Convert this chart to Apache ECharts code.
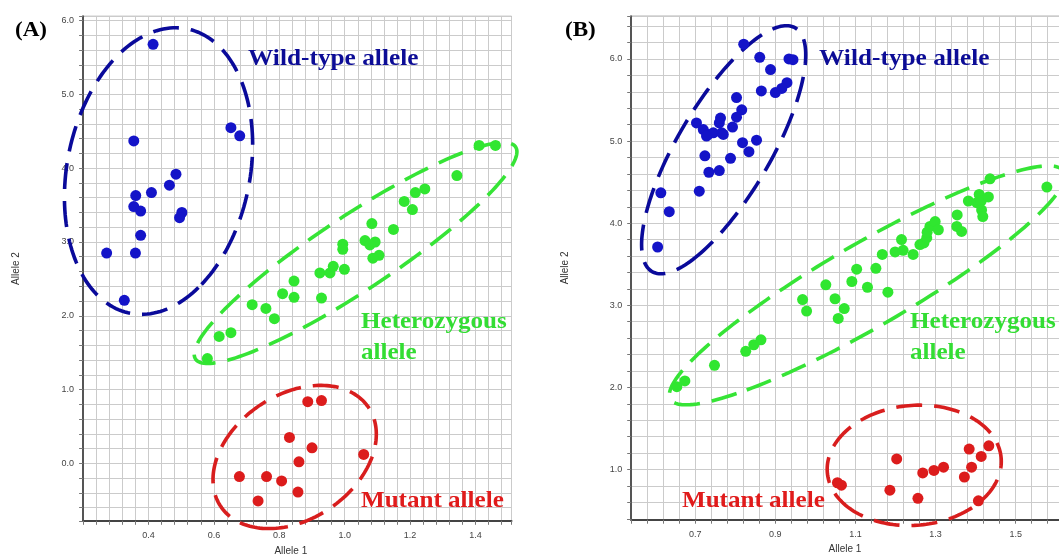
<!DOCTYPE html>
<html><head><meta charset="utf-8">
<script src="https://cdn.jsdelivr.net/npm/echarts@6/dist/echarts.min.js"></script>
<style>html,body{margin:0;padding:0;background:#fff}#c{width:1059px;height:554px}</style>
</head><body><div id="c"></div>
<script>
// ---------- Panel A data (Allele 1, Allele 2) ----------
const wildA = [[0.414,5.68],[0.355,4.37],[0.652,4.55],[0.679,4.44],[0.484,3.92],[0.464,3.77],[0.409,3.67],[0.361,3.63],[0.355,3.48],[0.376,3.42],[0.502,3.40],[0.495,3.33],[0.376,3.09],[0.272,2.85],[0.360,2.85],[0.326,2.21]];
const hetA = [[0.580,1.42],[0.616,1.72],[0.652,1.77],[0.717,2.15],[0.759,2.10],[0.785,1.96],[0.810,2.30],[0.845,2.25],[0.845,2.47],[0.929,2.24],[0.924,2.58],[0.955,2.58],[0.965,2.67],[0.999,2.63],[0.994,2.97],[0.994,2.90],[1.062,3.02],[1.083,3.25],[1.093,3.00],[1.077,2.96],[1.105,2.82],[1.086,2.78],[1.149,3.17],[1.182,3.55],[1.207,3.44],[1.216,3.67],[1.245,3.72],[1.343,3.90],[1.411,4.31],[1.461,4.31]];
const mutA = [[0.887,0.835],[0.929,0.85],[0.831,0.35],[0.900,0.21],[0.860,0.02],[1.058,0.12],[0.678,-0.18],[0.761,-0.18],[0.807,-0.24],[0.857,-0.39],[0.735,-0.51]];

// ---------- Panel B data ----------
const wildB = [[0.821,6.18],[0.861,6.02],[0.888,5.87],[0.934,6.00],[0.944,5.99],[0.929,5.71],[0.916,5.64],[0.900,5.59],[0.865,5.61],[0.803,5.53],[0.816,5.38],[0.803,5.29],[0.793,5.17],[0.703,5.22],[0.763,5.28],[0.760,5.22],[0.720,5.14],[0.732,5.08],[0.745,5.10],[0.766,5.10],[0.770,5.08],[0.728,5.06],[0.853,5.01],[0.818,4.98],[0.834,4.87],[0.724,4.82],[0.788,4.79],[0.734,4.62],[0.760,4.64],[0.710,4.39],[0.614,4.37],[0.635,4.14],[0.606,3.71]];
const hetB = [[0.654,2.01],[0.674,2.08],[0.748,2.27],[0.826,2.44],[0.846,2.52],[0.864,2.58],[0.968,3.07],[0.978,2.93],[1.026,3.25],[1.049,3.08],[1.057,2.84],[1.072,2.96],[1.091,3.29],[1.130,3.22],[1.181,3.16],[1.103,3.44],[1.151,3.45],[1.167,3.62],[1.199,3.65],[1.215,3.80],[1.219,3.67],[1.244,3.62],[1.261,3.74],[1.271,3.76],[1.278,3.82],[1.279,3.89],[1.286,3.96],[1.299,4.02],[1.307,3.92],[1.353,3.96],[1.365,3.90],[1.354,4.10],[1.382,4.27],[1.403,4.25],[1.409,4.35],[1.414,4.27],[1.432,4.32],[1.415,4.16],[1.418,4.08],[1.436,4.54],[1.578,4.44]];
const mutB = [[1.433,1.29],[1.384,1.25],[1.414,1.16],[1.203,1.13],[1.390,1.03],[1.320,1.03],[1.296,0.99],[1.268,0.96],[1.372,0.91],[1.055,0.84],[1.065,0.81],[1.186,0.75],[1.256,0.65],[1.407,0.62]];

// ---------- tick labels ----------
const xLabelsA = [0.4,0.6,0.8,1.0,1.2,1.4];
const yLabelsA = [0,1,2,3,4,5,6];
const xLabelsB = [0.7,0.9,1.1,1.3,1.5];
const yLabelsB = [1,2,3,4,5,6];

// ---------- cluster rings: [centre x, centre y, major-tip x, major-tip y, minor-tip x, minor-tip y] (data units) ----------
const ringWildA = [0.4307,3.962,0.5168,5.891,0.7053,3.729];
const ringHetA  = [1.0332,2.851,1.5224,4.290,1.0975,2.435];
const ringMutA  = [0.8469,0.0854,1.0708,0.770,0.9575,-0.603];
const ringWildB = [0.7709,4.894,0.9494,6.378,0.8716,4.614];
const ringHetB  = [1.1291,3.243,1.62,4.631,1.1825,2.808];
const ringMutB  = [1.2468,1.052,1.4638,1.143,1.26,0.325];

const BLUE_PT='#1414c8', BLUE_LN='#0a0a9a', BLUE_TX='#0c0c96';
const GREEN_PT='#30e630', GREEN_LN='#36e436', GREEN_TX='#33dd33';
const RED_PT='#dc1c1c', RED_LN='#d81e1e', RED_TX='#e01b1b';

function pick(labels){
  return function(v){ return labels.some(l => Math.abs(l - v) < 1e-6) ? Number(v).toFixed(1) : ''; };
}
const sans = '"Liberation Sans", Arial, sans-serif';
const tickFont = {fontSize:9, color:'#444', fontFamily:sans};
function xAxisCfg(gi, min, max, labels){
  return {type:'value', gridIndex:gi, min:min, max:max, interval:0.04,
    name:'Allele 1', nameLocation:'middle', nameGap:25,
    nameTextStyle:{fontSize:10, color:'#333', fontFamily:sans, padding:[0,13,0,0]},
    axisLine:{show:true, onZero:false, lineStyle:{color:'#444', width:2}},
    axisTick:{show:true, inside:false, length:4, lineStyle:{color:'#777', width:1}},
    axisLabel:Object.assign({margin:10, formatter:pick(labels), hideOverlap:false}, tickFont),
    splitLine:{show:true, lineStyle:{color:'#cbcbcb', width:1}}};
}
function yAxisCfg(gi, min, max, labels, gap){
  return {type:'value', gridIndex:gi, min:min, max:max, minInterval:0.2, maxInterval:0.2, splitNumber:34,
    name:'Allele 2', nameLocation:'middle', nameGap:gap,
    nameTextStyle:{fontSize:10, color:'#333', fontFamily:sans},
    axisLine:{show:true, onZero:false, lineStyle:{color:'#555', width:2}},
    axisTick:{show:true, inside:false, length:4, lineStyle:{color:'#777', width:1}},
    axisLabel:Object.assign({margin:9, formatter:pick(labels), hideOverlap:false}, tickFont),
    splitLine:{show:true, lineStyle:{color:'#cbcbcb', width:1}}};
}
function pts(data, gi, color){
  return {type:'scatter', xAxisIndex:gi, yAxisIndex:gi, data:data, symbolSize:11, z:3,
    itemStyle:{color:color, opacity:1}, emphasis:{disabled:true}, silent:true};
}
function ring(r, gi, color){
  return {type:'custom', xAxisIndex:gi, yAxisIndex:gi, data:[r], z:2, silent:true, clip:false,
    renderItem:function(params, api){
      const c = api.coord([api.value(0), api.value(1)]);
      const m = api.coord([api.value(2), api.value(3)]);
      const n = api.coord([api.value(4), api.value(5)]);
      const ax=m[0]-c[0], ay=m[1]-c[1], bx=n[0]-c[0], by=n[1]-c[1];
      const p=[];
      for(let i=0;i<=180;i++){ const t=i/180*2*Math.PI+2.4;
        p.push([c[0]+ax*Math.cos(t)+bx*Math.sin(t), c[1]+ay*Math.cos(t)+by*Math.sin(t)]); }
      return {type:'polyline', shape:{points:p}, style:{stroke:color, lineWidth:3.6, lineDash:[26,12], fill:null}};
    }};
}
function label(text, x, y, color, size, sx){
  return {type:'text', x:x, y:y, z:10, scaleX:sx||1, style:{text:text, fill:color,
    font:'bold '+size+'px "Liberation Serif", "Times New Roman", serif', verticalAlign:'middle', align:'left'}};
}

const chart = echarts.init(document.getElementById('c'), null, {renderer:'canvas'});
chart.setOption({
  animation:false,
  backgroundColor:'#fff',
  grid:[
    {left:83.1, top:16.3, width:428.4, height:504.5, show:true, borderColor:'#888', borderWidth:1, backgroundColor:'#fff', containLabel:false, outerBoundsMode:'none'},
    {left:631.2, top:16.2, width:440.5, height:503.5, show:true, borderColor:'#888', borderWidth:1, backgroundColor:'#fff', containLabel:false, outerBoundsMode:'none'}
  ],
  xAxis:[ xAxisCfg(0, 0.2, 1.51, xLabelsA), xAxisCfg(1, 0.54, 1.64, xLabelsB) ],
  yAxis:[ yAxisCfg(0, -0.78, 6.06, yLabelsA, 62), yAxisCfg(1, 0.39, 6.52, yLabelsB, 61) ],
  series:[
    ring(ringWildA,0,BLUE_LN), ring(ringHetA,0,GREEN_LN), ring(ringMutA,0,RED_LN),
    ring(ringWildB,1,BLUE_LN), ring(ringHetB,1,GREEN_LN), ring(ringMutB,1,RED_LN),
    pts(wildA,0,BLUE_PT), pts(hetA,0,GREEN_PT), pts(mutA,0,RED_PT),
    pts(wildB,1,BLUE_PT), pts(hetB,1,GREEN_PT), pts(mutB,1,RED_PT)
  ],
  graphic:[
    label('(A)', 15, 30, '#000', 22, 1.05),
    label('(B)', 565, 30, '#000', 22, 1.05),
    label('Wild-type allele', 248, 59, BLUE_TX, 24, 1.055),
    label('Heterozygous', 361, 322, GREEN_TX, 24, 1.045),
    label('allele', 361, 353, GREEN_TX, 24, 1.045),
    label('Mutant allele', 361, 501, RED_TX, 24, 1.045),
    label('Wild-type allele', 819, 59, BLUE_TX, 24, 1.055),
    label('Heterozygous', 910, 322, GREEN_TX, 24, 1.045),
    label('allele', 910, 353, GREEN_TX, 24, 1.045),
    label('Mutant allele', 682, 501, RED_TX, 24, 1.045)
  ]
});
</script></body></html>
